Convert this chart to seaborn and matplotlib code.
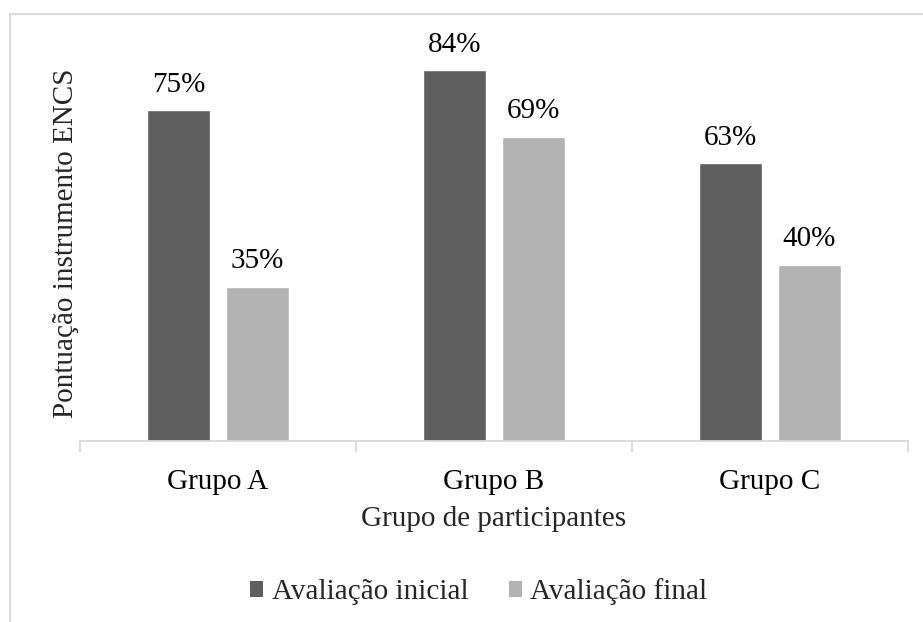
import matplotlib
matplotlib.use("Agg")
import matplotlib.pyplot as plt
from matplotlib.patches import Rectangle, Patch
import seaborn as sns
import pandas as pd

groups = ["Grupo A", "Grupo B", "Grupo C"]
initial_scores = [75, 84, 63]
final_scores = [35, 69, 40]
series_names = ["Avaliação inicial", "Avaliação final"]
series_colors = ["#5f5f5f", "#b2b2b2"]

df = pd.DataFrame({
    "grupo": groups * 2,
    "avaliacao": [series_names[0]] * 3 + [series_names[1]] * 3,
    "pontuacao": initial_scores + final_scores,
})

FS = 21

sns.set_theme(style="white")
plt.rcParams["font.family"] = ["Liberation Serif", "DejaVu Serif"]
plt.rcParams["font.size"] = FS

fig = plt.figure(figsize=(9.23, 6.22), dpi=100)
ax = fig.add_axes([80 / 923, 1 - 441 / 622, 828 / 923, 416 / 622])

sns.barplot(
    data=df, x="grupo", y="pontuacao", hue="avaliacao",
    hue_order=series_names, palette=series_colors,
    width=0.572, gap=0.213, saturation=1, ax=ax, legend=False,
)

for container in ax.containers:
    ax.bar_label(container, fmt="%d%%", padding=9, fontsize=FS, color="#000000")

ax.set_xlim(-0.5, 2.5)
ax.set_ylim(0, 94.3)
ax.set_yticks([])
ax.set_ylabel("Pontuação instrumento ENCS", fontsize=FS, labelpad=1)
ax.yaxis.label.set_y(0.475)
ax.set_xlabel("Grupo de participantes", fontsize=FS, labelpad=8)

for side in ["top", "right", "left"]:
    ax.spines[side].set_visible(False)
ax.spines["bottom"].set_color("#d9d9d9")
ax.spines["bottom"].set_linewidth(1.3)

ax.set_xticks([-0.5, 0.5, 1.5, 2.5], minor=True)
ax.tick_params(axis="x", which="major", length=0, pad=20, labelsize=FS, colors="#000000")
ax.tick_params(axis="x", which="minor", length=8, width=1.3, color="#d9d9d9", direction="out", bottom=True)

handles = [Patch(facecolor=c, edgecolor="none") for c in series_colors]
fig.legend(
    handles, series_names, loc="center", bbox_to_anchor=(479 / 923, 1 - 592 / 622),
    ncol=2, frameon=False, fontsize=FS, handlelength=0.43, handleheight=0.43,
    handletextpad=0.3, columnspacing=1.4,
)

# outer chart frame
fig.patches.append(Rectangle((9.5 / 923, -0.1), 1.2, 1 - 13.5 / 622 + 0.1,
                             transform=fig.transFigure, fill=False,
                             edgecolor="#d9d9d9", linewidth=1.5))

fig.savefig("out.png", dpi=100)
